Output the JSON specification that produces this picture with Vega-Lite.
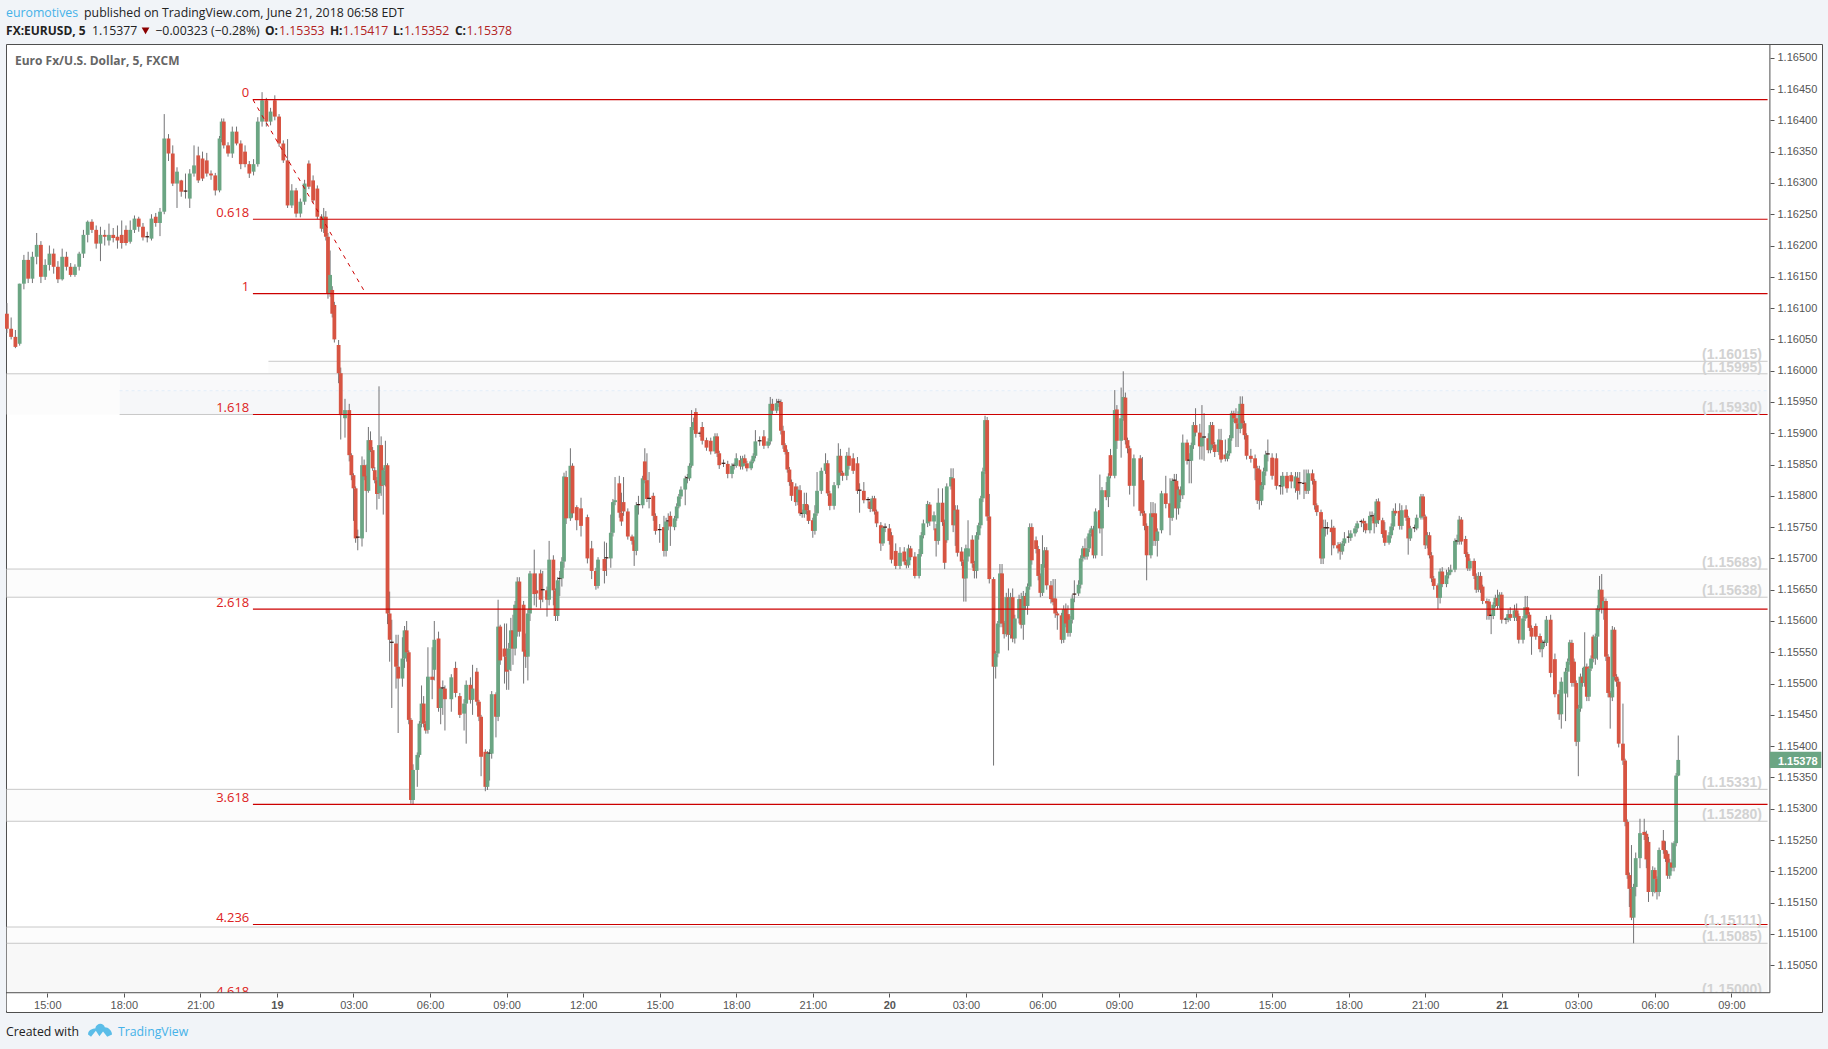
{"$schema":"https://vega.github.io/schema/vega-lite/v6.json","width":1816,"height":968,"autosize":{"type":"none"},"padding":{"left":6,"top":44,"right":6,"bottom":37},"background":"#f1f4f8","view":{"fill":"#ffffff","stroke":"#4f4f4f","strokeWidth":1},"config":{"axis":{"labelOverlap":false,"labelBound":false,"labelFlush":false}},"resolve":{"scale":{"color":"independent"}},
"datasets":{
"c":[{"i":161,"o":1.16091,"h":1.16108,"l":1.1606,"c":1.16067},{"i":163,"o":1.16067,"h":1.16085,"l":1.1605,"c":1.16054},{"i":165,"o":1.16054,"h":1.16065,"l":1.16036,"c":1.16038},{"i":167,"o":1.16043,"h":1.16139,"l":1.1604,"c":1.16139},{"i":169,"o":1.16139,"h":1.16185,"l":1.1613,"c":1.16177},{"i":171,"o":1.16177,"h":1.1619,"l":1.1614,"c":1.16147},{"i":173,"o":1.16147,"h":1.1619,"l":1.1614,"c":1.16182},{"i":175,"o":1.16182,"h":1.1622,"l":1.1617,"c":1.16201},{"i":177,"o":1.16201,"h":1.16207,"l":1.1614,"c":1.1615},{"i":179,"o":1.1615,"h":1.16178,"l":1.16145,"c":1.16169},{"i":181,"o":1.16169,"h":1.162,"l":1.1616,"c":1.16187},{"i":183,"o":1.16187,"h":1.16195,"l":1.16155,"c":1.16166},{"i":185,"o":1.16166,"h":1.16175,"l":1.1614,"c":1.16146},{"i":187,"o":1.16146,"h":1.16195,"l":1.16144,"c":1.16182},{"i":189,"o":1.16182,"h":1.1619,"l":1.1616,"c":1.16166},{"i":191,"o":1.16166,"h":1.16172,"l":1.1615,"c":1.16153},{"i":193,"o":1.16153,"h":1.1617,"l":1.1615,"c":1.16166},{"i":195,"o":1.16166,"h":1.1619,"l":1.1616,"c":1.16187},{"i":197,"o":1.16187,"h":1.16225,"l":1.1618,"c":1.16217},{"i":199,"o":1.16217,"h":1.1624,"l":1.16205,"c":1.16238},{"i":201,"o":1.16238,"h":1.16242,"l":1.1622,"c":1.16225},{"i":203,"o":1.16225,"h":1.16232,"l":1.16195,"c":1.16203},{"i":205,"o":1.16203,"h":1.1623,"l":1.16175,"c":1.16217},{"i":207,"o":1.16217,"h":1.16225,"l":1.162,"c":1.16214},{"i":209,"o":1.16208,"h":1.16235,"l":1.162,"c":1.16217},{"i":211,"o":1.16217,"h":1.16228,"l":1.16205,"c":1.16212},{"i":213,"o":1.16214,"h":1.16232,"l":1.16195,"c":1.16208},{"i":215,"o":1.16217,"h":1.1624,"l":1.16195,"c":1.16204},{"i":217,"o":1.16225,"h":1.16232,"l":1.162,"c":1.16204},{"i":219,"o":1.16206,"h":1.1624,"l":1.16203,"c":1.16225},{"i":221,"o":1.16225,"h":1.16248,"l":1.1622,"c":1.16243},{"i":223,"o":1.16243,"h":1.16246,"l":1.16222,"c":1.1623},{"i":225,"o":1.1623,"h":1.16236,"l":1.16208,"c":1.16213},{"i":227,"o":1.16213,"h":1.16222,"l":1.16205,"c":1.16215},{"i":229,"o":1.16211,"h":1.1625,"l":1.16208,"c":1.16243},{"i":231,"o":1.16246,"h":1.16252,"l":1.1623,"c":1.16236},{"i":233,"o":1.16236,"h":1.1626,"l":1.16215,"c":1.16254},{"i":235,"o":1.16254,"h":1.1641,"l":1.1625,"c":1.16371},{"i":237,"o":1.16371,"h":1.16378,"l":1.16335,"c":1.16347},{"i":239,"o":1.16347,"h":1.1636,"l":1.16295,"c":1.16299},{"i":241,"o":1.16299,"h":1.16325,"l":1.1626,"c":1.16318},{"i":243,"o":1.16304,"h":1.16305,"l":1.16278,"c":1.16286},{"i":245,"o":1.16286,"h":1.16315,"l":1.16275,"c":1.16288},{"i":247,"o":1.16275,"h":1.16322,"l":1.1626,"c":1.16315},{"i":249,"o":1.16315,"h":1.1636,"l":1.1631,"c":1.16328},{"i":251,"o":1.16344,"h":1.16358,"l":1.163,"c":1.16304},{"i":253,"o":1.16339,"h":1.1635,"l":1.16303,"c":1.16307},{"i":255,"o":1.16336,"h":1.16348,"l":1.1631,"c":1.16315},{"i":257,"o":1.16315,"h":1.1632,"l":1.16305,"c":1.16312},{"i":259,"o":1.16312,"h":1.16316,"l":1.1628,"c":1.16288},{"i":261,"o":1.16288,"h":1.16375,"l":1.16285,"c":1.16371},{"i":262,"o":1.16371,"h":1.16403,"l":1.16365,"c":1.16398},{"i":263,"o":1.16398,"h":1.16403,"l":1.16355,"c":1.1636},{"i":265,"o":1.1636,"h":1.16365,"l":1.16342,"c":1.16347},{"i":267,"o":1.16347,"h":1.1639,"l":1.1634,"c":1.16382},{"i":269,"o":1.16382,"h":1.1639,"l":1.1636,"c":1.16363},{"i":271,"o":1.16363,"h":1.16368,"l":1.16322,"c":1.1633},{"i":273,"o":1.1635,"h":1.1636,"l":1.16325,"c":1.1633},{"i":275,"o":1.1633,"h":1.16335,"l":1.16308,"c":1.16315},{"i":277,"o":1.16318,"h":1.16338,"l":1.16312,"c":1.1633},{"i":279,"o":1.1633,"h":1.16405,"l":1.16326,"c":1.16398},{"i":281,"o":1.16398,"h":1.16445,"l":1.1639,"c":1.16432},{"i":283,"o":1.16432,"h":1.16436,"l":1.1639,"c":1.16398},{"i":285,"o":1.16398,"h":1.1642,"l":1.16392,"c":1.16414},{"i":287,"o":1.16432,"h":1.1644,"l":1.164,"c":1.16406},{"i":289,"o":1.16406,"h":1.1641,"l":1.16358,"c":1.16363},{"i":291,"o":1.16363,"h":1.16368,"l":1.16332,"c":1.16336},{"i":293,"o":1.16336,"h":1.1637,"l":1.1626,"c":1.16264},{"i":295,"o":1.16264,"h":1.16298,"l":1.1626,"c":1.16288},{"i":297,"o":1.16288,"h":1.16292,"l":1.16245,"c":1.16251},{"i":299,"o":1.16251,"h":1.16275,"l":1.16245,"c":1.1627},{"i":301,"o":1.1627,"h":1.16305,"l":1.16265,"c":1.16299},{"i":303,"o":1.16331,"h":1.16336,"l":1.1629,"c":1.16294},{"i":305,"o":1.16304,"h":1.16312,"l":1.16268,"c":1.16272},{"i":307,"o":1.16291,"h":1.16296,"l":1.16242,"c":1.16246},{"i":309,"o":1.16246,"h":1.1625,"l":1.16222,"c":1.16227},{"i":310,"o":1.16227,"h":1.1626,"l":1.1622,"c":1.16246},{"i":311,"o":1.16246,"h":1.16255,"l":1.16208,"c":1.16214},{"i":312,"o":1.16214,"h":1.1622,"l":1.16115,"c":1.16123},{"i":313,"o":1.16123,"h":1.16192,"l":1.16118,"c":1.16153},{"i":314,"o":1.16129,"h":1.16135,"l":1.16085,"c":1.16091},{"i":315,"o":1.16105,"h":1.1611,"l":1.16045,"c":1.1605},{"i":317,"o":1.16041,"h":1.16049,"l":1.1598,"c":1.15996},{"i":318,"o":1.15996,"h":1.16005,"l":1.1589,"c":1.15929},{"i":320,"o":1.15924,"h":1.15955,"l":1.15893,"c":1.15937},{"i":322,"o":1.15937,"h":1.15947,"l":1.15855,"c":1.15865},{"i":323,"o":1.15865,"h":1.15868,"l":1.15825,"c":1.15833},{"i":324,"o":1.15833,"h":1.15836,"l":1.1576,"c":1.15812},{"i":325,"o":1.15812,"h":1.15815,"l":1.15725,"c":1.15732},{"i":326,"o":1.15733,"h":1.15746,"l":1.15713,"c":1.15735},{"i":328,"o":1.15732,"h":1.15863,"l":1.15719,"c":1.15849},{"i":329,"o":1.15849,"h":1.15858,"l":1.15825,"c":1.15831},{"i":330,"o":1.15832,"h":1.1585,"l":1.15742,"c":1.15808},{"i":331,"o":1.15808,"h":1.1591,"l":1.15805,"c":1.15889},{"i":332,"o":1.15889,"h":1.15903,"l":1.1587,"c":1.15873},{"i":333,"o":1.15873,"h":1.15878,"l":1.1584,"c":1.15844},{"i":334,"o":1.15841,"h":1.15846,"l":1.1582,"c":1.15825},{"i":335,"o":1.15825,"h":1.1583,"l":1.15778,"c":1.15803},{"i":336,"o":1.15804,"h":1.15975,"l":1.15795,"c":1.15881},{"i":337,"o":1.15881,"h":1.15895,"l":1.158,"c":1.15816},{"i":338,"o":1.15817,"h":1.15845,"l":1.1577,"c":1.15841},{"i":339,"o":1.15841,"h":1.15888,"l":1.15815,"c":1.15849},{"i":340,"o":1.15849,"h":1.15852,"l":1.15595,"c":1.15612},{"i":341,"o":1.15612,"h":1.15647,"l":1.15535,"c":1.1557},{"i":342,"o":1.15565,"h":1.15602,"l":1.15461,"c":1.15567},{"i":344,"o":1.15564,"h":1.15578,"l":1.15492,"c":1.15527},{"i":345,"o":1.15527,"h":1.15578,"l":1.15421,"c":1.15508},{"i":347,"o":1.15508,"h":1.15574,"l":1.15495,"c":1.1554},{"i":348,"o":1.1554,"h":1.15592,"l":1.15525,"c":1.15585},{"i":349,"o":1.15585,"h":1.156,"l":1.15535,"c":1.1555},{"i":350,"o":1.1555,"h":1.15553,"l":1.15435,"c":1.15442},{"i":351,"o":1.15442,"h":1.15445,"l":1.15308,"c":1.15314},{"i":352,"o":1.15314,"h":1.15371,"l":1.15306,"c":1.15362},{"i":354,"o":1.15362,"h":1.1539,"l":1.15335,"c":1.15386},{"i":355,"o":1.15386,"h":1.1544,"l":1.15382,"c":1.15436},{"i":356,"o":1.15436,"h":1.15497,"l":1.1543,"c":1.15468},{"i":357,"o":1.15468,"h":1.1548,"l":1.1543,"c":1.15436},{"i":358,"o":1.15436,"h":1.1544,"l":1.1542,"c":1.15425},{"i":359,"o":1.15426,"h":1.15558,"l":1.1542,"c":1.15511},{"i":361,"o":1.15511,"h":1.15558,"l":1.15475,"c":1.15506},{"i":362,"o":1.15522,"h":1.156,"l":1.15505,"c":1.1557},{"i":364,"o":1.15572,"h":1.15583,"l":1.15455,"c":1.15461},{"i":365,"o":1.15461,"h":1.15495,"l":1.15435,"c":1.15492},{"i":366,"o":1.15492,"h":1.15505,"l":1.1545,"c":1.15494},{"i":367,"o":1.15492,"h":1.15497,"l":1.15425,"c":1.15475},{"i":370,"o":1.15475,"h":1.15515,"l":1.15455,"c":1.1551},{"i":372,"o":1.15525,"h":1.15535,"l":1.15478,"c":1.15485},{"i":374,"o":1.1548,"h":1.15485,"l":1.15445,"c":1.1545},{"i":376,"o":1.15452,"h":1.15475,"l":1.15425,"c":1.15468},{"i":377,"o":1.15468,"h":1.15505,"l":1.15404,"c":1.15498},{"i":379,"o":1.15498,"h":1.1551,"l":1.15468,"c":1.15474},{"i":380,"o":1.15474,"h":1.1553,"l":1.1545,"c":1.15492},{"i":382,"o":1.15519,"h":1.15525,"l":1.15465,"c":1.15471},{"i":383,"o":1.15471,"h":1.15474,"l":1.1544,"c":1.15447},{"i":384,"o":1.15447,"h":1.1545,"l":1.15352,"c":1.15383},{"i":386,"o":1.15391,"h":1.15395,"l":1.15328,"c":1.15335},{"i":387,"o":1.15335,"h":1.15392,"l":1.1533,"c":1.15388},{"i":388,"o":1.15388,"h":1.15395,"l":1.15345,"c":1.1539},{"i":389,"o":1.15388,"h":1.15488,"l":1.1538,"c":1.15483},{"i":391,"o":1.15483,"h":1.15486,"l":1.15414,"c":1.15447},{"i":392,"o":1.15447,"h":1.15634,"l":1.1544,"c":1.15591},{"i":393,"o":1.15591,"h":1.15594,"l":1.1553,"c":1.15537},{"i":395,"o":1.15556,"h":1.15596,"l":1.155,"c":1.15543},{"i":396,"o":1.15543,"h":1.15596,"l":1.1549,"c":1.15519},{"i":397,"o":1.15522,"h":1.15565,"l":1.1549,"c":1.15556},{"i":398,"o":1.15556,"h":1.15605,"l":1.1552,"c":1.15585},{"i":399,"o":1.15585,"h":1.1561,"l":1.1553,"c":1.15556},{"i":400,"o":1.15556,"h":1.15632,"l":1.15545,"c":1.15626},{"i":401,"o":1.15583,"h":1.1567,"l":1.15575,"c":1.15663},{"i":402,"o":1.15663,"h":1.1567,"l":1.15575,"c":1.15583},{"i":404,"o":1.15626,"h":1.15632,"l":1.155,"c":1.15551},{"i":405,"o":1.15554,"h":1.1558,"l":1.15525,"c":1.15543},{"i":406,"o":1.15543,"h":1.15618,"l":1.15505,"c":1.15612},{"i":407,"o":1.15612,"h":1.1568,"l":1.156,"c":1.15676},{"i":409,"o":1.15676,"h":1.15714,"l":1.15625,"c":1.15643},{"i":410,"o":1.15649,"h":1.15676,"l":1.15622,"c":1.15644},{"i":412,"o":1.15676,"h":1.15682,"l":1.1562,"c":1.15634},{"i":413,"o":1.15649,"h":1.1568,"l":1.1563,"c":1.15651},{"i":415,"o":1.15649,"h":1.15655,"l":1.15607,"c":1.15634},{"i":416,"o":1.15634,"h":1.15728,"l":1.15625,"c":1.15698},{"i":418,"o":1.15698,"h":1.15705,"l":1.15625,"c":1.15649},{"i":419,"o":1.15649,"h":1.15652,"l":1.156,"c":1.15608},{"i":420,"o":1.15608,"h":1.1567,"l":1.156,"c":1.15665},{"i":421,"o":1.15667,"h":1.1568,"l":1.1564,"c":1.15669},{"i":422,"o":1.15668,"h":1.15702,"l":1.15655,"c":1.15695},{"i":423,"o":1.15695,"h":1.15837,"l":1.15685,"c":1.15831},{"i":424,"o":1.1583,"h":1.1584,"l":1.15755,"c":1.15764},{"i":426,"o":1.15764,"h":1.15876,"l":1.1576,"c":1.15848},{"i":427,"o":1.15848,"h":1.15852,"l":1.15765,"c":1.15772},{"i":429,"o":1.15782,"h":1.15785,"l":1.15745,"c":1.15761},{"i":431,"o":1.1578,"h":1.15797,"l":1.15735,"c":1.15752},{"i":434,"o":1.15766,"h":1.1577,"l":1.15692,"c":1.157},{"i":436,"o":1.15716,"h":1.15728,"l":1.15667,"c":1.1568},{"i":438,"o":1.1568,"h":1.15685,"l":1.1565,"c":1.15656},{"i":439,"o":1.15656,"h":1.15702,"l":1.15652,"c":1.15698},{"i":442,"o":1.15699,"h":1.15727,"l":1.1566,"c":1.1568},{"i":443,"o":1.157,"h":1.15725,"l":1.15672,"c":1.15702},{"i":445,"o":1.157,"h":1.1577,"l":1.15685,"c":1.15741},{"i":446,"o":1.15741,"h":1.15795,"l":1.15735,"c":1.1579},{"i":447,"o":1.1579,"h":1.1583,"l":1.15785,"c":1.15793},{"i":449,"o":1.1582,"h":1.15832,"l":1.15765,"c":1.15773},{"i":450,"o":1.15773,"h":1.15805,"l":1.15752,"c":1.15759},{"i":451,"o":1.1579,"h":1.1583,"l":1.15768,"c":1.15775},{"i":453,"o":1.15775,"h":1.1578,"l":1.1573,"c":1.15735},{"i":455,"o":1.15735,"h":1.15738,"l":1.15722,"c":1.15728},{"i":456,"o":1.15729,"h":1.15735,"l":1.15688,"c":1.15712},{"i":457,"o":1.15712,"h":1.1579,"l":1.15705,"c":1.15785},{"i":458,"o":1.15785,"h":1.158,"l":1.1577,"c":1.15787},{"i":460,"o":1.15785,"h":1.15832,"l":1.1578,"c":1.15828},{"i":461,"o":1.15855,"h":1.15876,"l":1.1582,"c":1.15825},{"i":462,"o":1.15825,"h":1.15868,"l":1.1579,"c":1.15795},{"i":463,"o":1.15795,"h":1.15838,"l":1.1578,"c":1.15797},{"i":465,"o":1.158,"h":1.15805,"l":1.1576,"c":1.15768},{"i":466,"o":1.15768,"h":1.15772,"l":1.15738,"c":1.15744},{"i":468,"o":1.15745,"h":1.15755,"l":1.15725,"c":1.15747},{"i":470,"o":1.1575,"h":1.15768,"l":1.15703,"c":1.15712},{"i":471,"o":1.15712,"h":1.15765,"l":1.15703,"c":1.15759},{"i":472,"o":1.15759,"h":1.15772,"l":1.15745,"c":1.15761},{"i":473,"o":1.15768,"h":1.15775,"l":1.1572,"c":1.15751},{"i":475,"o":1.1575,"h":1.15768,"l":1.15745,"c":1.15764},{"i":476,"o":1.15764,"h":1.15788,"l":1.1576,"c":1.15783},{"i":477,"o":1.15783,"h":1.15803,"l":1.1578,"c":1.15799},{"i":478,"o":1.15799,"h":1.15815,"l":1.15795,"c":1.1581},{"i":480,"o":1.1581,"h":1.15832,"l":1.15785,"c":1.15828},{"i":481,"o":1.15828,"h":1.15835,"l":1.1582,"c":1.1583},{"i":482,"o":1.15828,"h":1.15852,"l":1.15824,"c":1.15848},{"i":483,"o":1.15848,"h":1.15937,"l":1.15845,"c":1.1591},{"i":484,"o":1.1591,"h":1.15925,"l":1.15905,"c":1.15918},{"i":485,"o":1.15934,"h":1.1594,"l":1.15893,"c":1.15899},{"i":487,"o":1.15899,"h":1.15903,"l":1.15894,"c":1.15901},{"i":488,"o":1.1591,"h":1.15918,"l":1.15882,"c":1.15888},{"i":490,"o":1.15889,"h":1.15893,"l":1.15872,"c":1.15877},{"i":492,"o":1.15888,"h":1.15893,"l":1.15866,"c":1.15871},{"i":494,"o":1.15871,"h":1.159,"l":1.15867,"c":1.15895},{"i":495,"o":1.15895,"h":1.159,"l":1.15862,"c":1.15868},{"i":496,"o":1.15868,"h":1.15872,"l":1.15843,"c":1.15849},{"i":498,"o":1.15851,"h":1.15858,"l":1.15846,"c":1.15853},{"i":500,"o":1.15851,"h":1.15856,"l":1.15828,"c":1.15835},{"i":502,"o":1.15835,"h":1.15852,"l":1.15828,"c":1.15848},{"i":503,"o":1.15848,"h":1.15853,"l":1.15842,"c":1.1585},{"i":504,"o":1.15848,"h":1.15868,"l":1.15845,"c":1.1586},{"i":506,"o":1.15857,"h":1.15864,"l":1.15842,"c":1.15847},{"i":507,"o":1.15847,"h":1.15864,"l":1.15842,"c":1.1586},{"i":508,"o":1.1586,"h":1.15866,"l":1.15848,"c":1.15852},{"i":509,"o":1.15852,"h":1.15856,"l":1.15839,"c":1.15844},{"i":511,"o":1.15844,"h":1.15858,"l":1.15841,"c":1.15855},{"i":512,"o":1.15855,"h":1.15868,"l":1.15852,"c":1.15864},{"i":513,"o":1.15864,"h":1.15905,"l":1.1586,"c":1.15887},{"i":515,"o":1.15887,"h":1.15895,"l":1.1588,"c":1.15889},{"i":517,"o":1.15895,"h":1.15905,"l":1.15875,"c":1.1588},{"i":519,"o":1.1588,"h":1.15892,"l":1.15876,"c":1.15887},{"i":520,"o":1.15887,"h":1.15958,"l":1.15882,"c":1.15947},{"i":521,"o":1.15947,"h":1.15955,"l":1.1593,"c":1.15936},{"i":523,"o":1.15936,"h":1.15955,"l":1.15932,"c":1.15948},{"i":524,"o":1.15949,"h":1.15955,"l":1.15942,"c":1.15951},{"i":525,"o":1.1595,"h":1.15954,"l":1.15898,"c":1.15904},{"i":526,"o":1.15904,"h":1.15912,"l":1.15875,"c":1.15881},{"i":527,"o":1.15881,"h":1.15884,"l":1.15866,"c":1.1587},{"i":528,"o":1.1587,"h":1.15874,"l":1.15837,"c":1.15842},{"i":529,"o":1.15842,"h":1.15846,"l":1.15816,"c":1.15822},{"i":530,"o":1.15822,"h":1.15826,"l":1.15792,"c":1.158},{"i":532,"o":1.15815,"h":1.1582,"l":1.15784,"c":1.1579},{"i":533,"o":1.1579,"h":1.15815,"l":1.15785,"c":1.1581},{"i":534,"o":1.15809,"h":1.15817,"l":1.15768,"c":1.15772},{"i":535,"o":1.15771,"h":1.15778,"l":1.15765,"c":1.15773},{"i":536,"o":1.15771,"h":1.15805,"l":1.15765,"c":1.15787},{"i":537,"o":1.15787,"h":1.15805,"l":1.1577,"c":1.15777},{"i":538,"o":1.15777,"h":1.15785,"l":1.15755,"c":1.1576},{"i":540,"o":1.15761,"h":1.15765,"l":1.15733,"c":1.15744},{"i":541,"o":1.15744,"h":1.15785,"l":1.15738,"c":1.15772},{"i":542,"o":1.15772,"h":1.15838,"l":1.15768,"c":1.15808},{"i":544,"o":1.15808,"h":1.15845,"l":1.15803,"c":1.1584},{"i":546,"o":1.1584,"h":1.15868,"l":1.15835,"c":1.15852},{"i":547,"o":1.15852,"h":1.15857,"l":1.158,"c":1.15804},{"i":548,"o":1.15804,"h":1.15808,"l":1.15777,"c":1.15784},{"i":550,"o":1.15784,"h":1.15822,"l":1.15778,"c":1.15817},{"i":552,"o":1.15817,"h":1.15884,"l":1.15812,"c":1.15864},{"i":553,"o":1.15864,"h":1.15875,"l":1.15832,"c":1.15837},{"i":554,"o":1.15837,"h":1.1584,"l":1.15824,"c":1.15832},{"i":556,"o":1.15832,"h":1.1587,"l":1.15825,"c":1.15864},{"i":557,"o":1.15864,"h":1.15877,"l":1.15842,"c":1.15848},{"i":559,"o":1.1586,"h":1.15868,"l":1.15835,"c":1.1584},{"i":561,"o":1.15852,"h":1.15862,"l":1.15803,"c":1.15808},{"i":562,"o":1.15808,"h":1.1582,"l":1.15773,"c":1.1581},{"i":564,"o":1.15808,"h":1.15822,"l":1.15788,"c":1.15793},{"i":566,"o":1.15793,"h":1.15798,"l":1.1578,"c":1.15795},{"i":567,"o":1.15791,"h":1.15795,"l":1.15774,"c":1.15779},{"i":568,"o":1.15779,"h":1.158,"l":1.15775,"c":1.15796},{"i":569,"o":1.15796,"h":1.158,"l":1.1577,"c":1.15775},{"i":570,"o":1.15775,"h":1.15778,"l":1.1575,"c":1.15756},{"i":572,"o":1.15753,"h":1.15758,"l":1.15712,"c":1.15724},{"i":573,"o":1.15724,"h":1.15752,"l":1.1572,"c":1.15749},{"i":574,"o":1.15749,"h":1.15756,"l":1.15742,"c":1.15751},{"i":576,"o":1.15748,"h":1.15755,"l":1.15722,"c":1.15728},{"i":577,"o":1.15737,"h":1.15742,"l":1.15692,"c":1.15698},{"i":579,"o":1.15712,"h":1.15724,"l":1.15683,"c":1.15688},{"i":581,"o":1.15688,"h":1.15718,"l":1.15683,"c":1.15709},{"i":583,"o":1.15711,"h":1.15718,"l":1.1569,"c":1.15695},{"i":584,"o":1.15695,"h":1.15698,"l":1.15684,"c":1.15689},{"i":585,"o":1.15689,"h":1.15722,"l":1.15685,"c":1.15716},{"i":586,"o":1.15716,"h":1.1572,"l":1.15697,"c":1.15702},{"i":588,"o":1.15703,"h":1.1571,"l":1.15668,"c":1.15672},{"i":590,"o":1.15672,"h":1.15715,"l":1.15668,"c":1.15707},{"i":591,"o":1.15707,"h":1.15742,"l":1.15703,"c":1.15737},{"i":592,"o":1.15737,"h":1.15762,"l":1.15732,"c":1.15756},{"i":594,"o":1.15756,"h":1.15792,"l":1.1575,"c":1.15787},{"i":595,"o":1.15786,"h":1.1579,"l":1.15752,"c":1.15759},{"i":597,"o":1.15759,"h":1.15775,"l":1.15745,"c":1.15769},{"i":598,"o":1.15748,"h":1.15755,"l":1.15703,"c":1.15728},{"i":599,"o":1.15728,"h":1.15812,"l":1.15722,"c":1.15789},{"i":601,"o":1.15789,"h":1.15812,"l":1.15752,"c":1.15758},{"i":602,"o":1.15758,"h":1.15762,"l":1.15683,"c":1.15693},{"i":603,"o":1.15729,"h":1.1582,"l":1.15725,"c":1.15815},{"i":605,"o":1.15815,"h":1.15844,"l":1.1581,"c":1.1583},{"i":606,"o":1.15828,"h":1.15844,"l":1.15742,"c":1.15753},{"i":607,"o":1.15753,"h":1.15785,"l":1.1572,"c":1.15777},{"i":608,"o":1.15778,"h":1.15785,"l":1.15703,"c":1.15709},{"i":610,"o":1.15711,"h":1.15718,"l":1.15688,"c":1.15695},{"i":611,"o":1.15695,"h":1.15698,"l":1.15631,"c":1.15668},{"i":612,"o":1.15668,"h":1.15722,"l":1.15631,"c":1.15716},{"i":613,"o":1.15703,"h":1.15761,"l":1.15695,"c":1.15716},{"i":615,"o":1.1573,"h":1.15737,"l":1.15685,"c":1.15692},{"i":616,"o":1.15692,"h":1.15696,"l":1.15668,"c":1.1568},{"i":617,"o":1.1568,"h":1.15742,"l":1.15668,"c":1.15737},{"i":618,"o":1.15737,"h":1.15757,"l":1.1573,"c":1.15753},{"i":619,"o":1.15753,"h":1.158,"l":1.15748,"c":1.15796},{"i":620,"o":1.15796,"h":1.15845,"l":1.1579,"c":1.15839},{"i":621,"o":1.15839,"h":1.15928,"l":1.15835,"c":1.15921},{"i":622,"o":1.15921,"h":1.15926,"l":1.1576,"c":1.15767},{"i":623,"o":1.15767,"h":1.15803,"l":1.1566,"c":1.15667},{"i":625,"o":1.15667,"h":1.1567,"l":1.15369,"c":1.15527},{"i":626,"o":1.15527,"h":1.15552,"l":1.15508,"c":1.15548},{"i":627,"o":1.15548,"h":1.156,"l":1.15542,"c":1.15596},{"i":628,"o":1.15596,"h":1.15691,"l":1.1559,"c":1.15676},{"i":629,"o":1.15676,"h":1.15691,"l":1.1559,"c":1.15596},{"i":630,"o":1.15597,"h":1.156,"l":1.15572,"c":1.15579},{"i":631,"o":1.15579,"h":1.15645,"l":1.15575,"c":1.15638},{"i":632,"o":1.15638,"h":1.15652,"l":1.15553,"c":1.15578},{"i":633,"o":1.15578,"h":1.15645,"l":1.15572,"c":1.15638},{"i":634,"o":1.15638,"h":1.15652,"l":1.15566,"c":1.15572},{"i":635,"o":1.15572,"h":1.1561,"l":1.15564,"c":1.15604},{"i":637,"o":1.15604,"h":1.15642,"l":1.15596,"c":1.15635},{"i":638,"o":1.15635,"h":1.15645,"l":1.15588,"c":1.15594},{"i":639,"o":1.15594,"h":1.15648,"l":1.1557,"c":1.1564},{"i":640,"o":1.1564,"h":1.15645,"l":1.15618,"c":1.15624},{"i":641,"o":1.15624,"h":1.1566,"l":1.1561,"c":1.15655},{"i":642,"o":1.15655,"h":1.15756,"l":1.1565,"c":1.1575},{"i":643,"o":1.1575,"h":1.15756,"l":1.1569,"c":1.15697},{"i":645,"o":1.15729,"h":1.15735,"l":1.15708,"c":1.15715},{"i":646,"o":1.15715,"h":1.1572,"l":1.15665,"c":1.15672},{"i":647,"o":1.15672,"h":1.15676,"l":1.15638,"c":1.15645},{"i":648,"o":1.15645,"h":1.15737,"l":1.1564,"c":1.15691},{"i":649,"o":1.15691,"h":1.15718,"l":1.15685,"c":1.15713},{"i":650,"o":1.15713,"h":1.15718,"l":1.1565,"c":1.15657},{"i":652,"o":1.15657,"h":1.15664,"l":1.15628,"c":1.15635},{"i":653,"o":1.15636,"h":1.15667,"l":1.15625,"c":1.1563},{"i":654,"o":1.15636,"h":1.15667,"l":1.15605,"c":1.15612},{"i":655,"o":1.15612,"h":1.15615,"l":1.15586,"c":1.15609},{"i":657,"o":1.15609,"h":1.15613,"l":1.15564,"c":1.1557},{"i":658,"o":1.1557,"h":1.15625,"l":1.15565,"c":1.15619},{"i":659,"o":1.15619,"h":1.15628,"l":1.1559,"c":1.15596},{"i":660,"o":1.15611,"h":1.15625,"l":1.15575,"c":1.15581},{"i":661,"o":1.15581,"h":1.15608,"l":1.15575,"c":1.15602},{"i":662,"o":1.15602,"h":1.15642,"l":1.15596,"c":1.15636},{"i":663,"o":1.15642,"h":1.15665,"l":1.1563,"c":1.15644},{"i":665,"o":1.15644,"h":1.15665,"l":1.1564,"c":1.15658},{"i":666,"o":1.15658,"h":1.15705,"l":1.15652,"c":1.157},{"i":667,"o":1.157,"h":1.1572,"l":1.15695,"c":1.15716},{"i":668,"o":1.15716,"h":1.15732,"l":1.15698,"c":1.15703},{"i":669,"o":1.15703,"h":1.15735,"l":1.15698,"c":1.15716},{"i":670,"o":1.15716,"h":1.15745,"l":1.1571,"c":1.1574},{"i":671,"o":1.1574,"h":1.15752,"l":1.15735,"c":1.15748},{"i":672,"o":1.15746,"h":1.15752,"l":1.157,"c":1.15705},{"i":673,"o":1.15705,"h":1.1578,"l":1.157,"c":1.15775},{"i":675,"o":1.15777,"h":1.15834,"l":1.1574,"c":1.15748},{"i":676,"o":1.15748,"h":1.15814,"l":1.15704,"c":1.15809},{"i":678,"o":1.15809,"h":1.15822,"l":1.15793,"c":1.15798},{"i":679,"o":1.15798,"h":1.15836,"l":1.15782,"c":1.15831},{"i":680,"o":1.15865,"h":1.15875,"l":1.15828,"c":1.15832},{"i":682,"o":1.15832,"h":1.15969,"l":1.15828,"c":1.15937},{"i":683,"o":1.15938,"h":1.15945,"l":1.15875,"c":1.15888},{"i":685,"o":1.15888,"h":1.15973,"l":1.15861,"c":1.15924},{"i":686,"o":1.15924,"h":1.15999,"l":1.1592,"c":1.15958},{"i":687,"o":1.15957,"h":1.15965,"l":1.15882,"c":1.15889},{"i":688,"o":1.15889,"h":1.15893,"l":1.15868,"c":1.15876},{"i":689,"o":1.15876,"h":1.1588,"l":1.15802,"c":1.15816},{"i":691,"o":1.15816,"h":1.15866,"l":1.15783,"c":1.1586},{"i":694,"o":1.1586,"h":1.15865,"l":1.15768,"c":1.15776},{"i":695,"o":1.15825,"h":1.15862,"l":1.15768,"c":1.15772},{"i":696,"o":1.15772,"h":1.15776,"l":1.15745,"c":1.15752},{"i":697,"o":1.15752,"h":1.15756,"l":1.15665,"c":1.15705},{"i":699,"o":1.15705,"h":1.1579,"l":1.157,"c":1.15772},{"i":700,"o":1.15772,"h":1.1579,"l":1.1572,"c":1.15766},{"i":701,"o":1.15772,"h":1.15788,"l":1.1572,"c":1.15728},{"i":702,"o":1.15728,"h":1.15748,"l":1.15703,"c":1.15743},{"i":704,"o":1.15745,"h":1.15808,"l":1.1574,"c":1.15804},{"i":706,"o":1.15804,"h":1.15832,"l":1.1578,"c":1.15787},{"i":708,"o":1.15788,"h":1.15828,"l":1.15737,"c":1.15765},{"i":709,"o":1.15765,"h":1.15828,"l":1.1576,"c":1.15824},{"i":710,"o":1.15824,"h":1.15835,"l":1.1578,"c":1.15826},{"i":711,"o":1.15824,"h":1.15835,"l":1.15762,"c":1.1578},{"i":712,"o":1.1578,"h":1.15815,"l":1.1577,"c":1.1581},{"i":713,"o":1.1581,"h":1.15815,"l":1.1579,"c":1.15801},{"i":714,"o":1.15801,"h":1.15898,"l":1.15795,"c":1.15885},{"i":716,"o":1.15885,"h":1.1589,"l":1.1585,"c":1.15856},{"i":717,"o":1.15856,"h":1.15868,"l":1.1582,"c":1.15858},{"i":718,"o":1.15856,"h":1.15885,"l":1.1582,"c":1.15881},{"i":719,"o":1.15881,"h":1.15918,"l":1.15875,"c":1.15913},{"i":720,"o":1.15913,"h":1.1594,"l":1.15895,"c":1.15901},{"i":722,"o":1.15901,"h":1.15915,"l":1.15858,"c":1.15879},{"i":723,"o":1.15879,"h":1.15945,"l":1.15858,"c":1.15893},{"i":724,"o":1.15893,"h":1.15932,"l":1.15856,"c":1.15895},{"i":726,"o":1.15892,"h":1.159,"l":1.15868,"c":1.15873},{"i":727,"o":1.15873,"h":1.15918,"l":1.15868,"c":1.15913},{"i":728,"o":1.15913,"h":1.15918,"l":1.15876,"c":1.15882},{"i":729,"o":1.15882,"h":1.15886,"l":1.15862,"c":1.1587},{"i":731,"o":1.1587,"h":1.15907,"l":1.15865,"c":1.1589},{"i":732,"o":1.15889,"h":1.15907,"l":1.15853,"c":1.15858},{"i":734,"o":1.15866,"h":1.1589,"l":1.15855,"c":1.15859},{"i":735,"o":1.15859,"h":1.15872,"l":1.15855,"c":1.15868},{"i":736,"o":1.15868,"h":1.15897,"l":1.15864,"c":1.15892},{"i":737,"o":1.15892,"h":1.15936,"l":1.15888,"c":1.15932},{"i":738,"o":1.15932,"h":1.15936,"l":1.15918,"c":1.15924},{"i":739,"o":1.15924,"h":1.1594,"l":1.15878,"c":1.15916},{"i":740,"o":1.15916,"h":1.15935,"l":1.15878,"c":1.15907},{"i":741,"o":1.15907,"h":1.15959,"l":1.159,"c":1.15947},{"i":742,"o":1.15947,"h":1.15959,"l":1.15908,"c":1.15916},{"i":743,"o":1.15916,"h":1.1592,"l":1.1589,"c":1.15897},{"i":744,"o":1.15897,"h":1.159,"l":1.15858,"c":1.15864},{"i":746,"o":1.15864,"h":1.15875,"l":1.15853,"c":1.15859},{"i":748,"o":1.1586,"h":1.15866,"l":1.15825,"c":1.15844},{"i":749,"o":1.15844,"h":1.15848,"l":1.15787,"c":1.15793},{"i":750,"o":1.15842,"h":1.15848,"l":1.15778,"c":1.15792},{"i":751,"o":1.15792,"h":1.15822,"l":1.15785,"c":1.15817},{"i":752,"o":1.15817,"h":1.15845,"l":1.1581,"c":1.15839},{"i":753,"o":1.15839,"h":1.15872,"l":1.15832,"c":1.15866},{"i":754,"o":1.15866,"h":1.1589,"l":1.15855,"c":1.15868},{"i":756,"o":1.15861,"h":1.15868,"l":1.15826,"c":1.15832},{"i":758,"o":1.1586,"h":1.15868,"l":1.1581,"c":1.15816},{"i":760,"o":1.15815,"h":1.15832,"l":1.15802,"c":1.15817},{"i":761,"o":1.15815,"h":1.15838,"l":1.15802,"c":1.15832},{"i":763,"o":1.15832,"h":1.15838,"l":1.15805,"c":1.15812},{"i":765,"o":1.15833,"h":1.15838,"l":1.15812,"c":1.15823},{"i":767,"o":1.15812,"h":1.15838,"l":1.15805,"c":1.15831},{"i":768,"o":1.15829,"h":1.15838,"l":1.15794,"c":1.15808},{"i":769,"o":1.1582,"h":1.15838,"l":1.15802,"c":1.15822},{"i":771,"o":1.15819,"h":1.15842,"l":1.15795,"c":1.15821},{"i":772,"o":1.15821,"h":1.15842,"l":1.15803,"c":1.15808},{"i":773,"o":1.15808,"h":1.15842,"l":1.15803,"c":1.15836},{"i":775,"o":1.15836,"h":1.15842,"l":1.15818,"c":1.15824},{"i":776,"o":1.15824,"h":1.15827,"l":1.15778,"c":1.15785},{"i":777,"o":1.15785,"h":1.15788,"l":1.15768,"c":1.15774},{"i":779,"o":1.15774,"h":1.15778,"l":1.15691,"c":1.157},{"i":780,"o":1.157,"h":1.15762,"l":1.15691,"c":1.15748},{"i":781,"o":1.15748,"h":1.15762,"l":1.15735,"c":1.1575},{"i":782,"o":1.15748,"h":1.15758,"l":1.15738,"c":1.1575},{"i":784,"o":1.15749,"h":1.15762,"l":1.15705,"c":1.15742},{"i":785,"o":1.15749,"h":1.15752,"l":1.15716,"c":1.15721},{"i":787,"o":1.15721,"h":1.15726,"l":1.15708,"c":1.15716},{"i":788,"o":1.15723,"h":1.15726,"l":1.15698,"c":1.15711},{"i":789,"o":1.15711,"h":1.15728,"l":1.15706,"c":1.15724},{"i":790,"o":1.15724,"h":1.15742,"l":1.1572,"c":1.15732},{"i":792,"o":1.15733,"h":1.15745,"l":1.15725,"c":1.15735},{"i":793,"o":1.15733,"h":1.15745,"l":1.15728,"c":1.1574},{"i":795,"o":1.1574,"h":1.15752,"l":1.15735,"c":1.15748},{"i":796,"o":1.15748,"h":1.1576,"l":1.15742,"c":1.15756},{"i":798,"o":1.15758,"h":1.15762,"l":1.1575,"c":1.1576},{"i":799,"o":1.1576,"h":1.15764,"l":1.15742,"c":1.15756},{"i":800,"o":1.15756,"h":1.1576,"l":1.1574,"c":1.15745},{"i":802,"o":1.15745,"h":1.15775,"l":1.1574,"c":1.15768},{"i":803,"o":1.15767,"h":1.15775,"l":1.1576,"c":1.15769},{"i":804,"o":1.15767,"h":1.15772,"l":1.1574,"c":1.15756},{"i":805,"o":1.15756,"h":1.15795,"l":1.1575,"c":1.15791},{"i":806,"o":1.15791,"h":1.15796,"l":1.15755,"c":1.15761},{"i":808,"o":1.15761,"h":1.15765,"l":1.15733,"c":1.15739},{"i":809,"o":1.15745,"h":1.15758,"l":1.1572,"c":1.15725},{"i":811,"o":1.15725,"h":1.15742,"l":1.15722,"c":1.15737},{"i":812,"o":1.15737,"h":1.15756,"l":1.15732,"c":1.15751},{"i":813,"o":1.15751,"h":1.1578,"l":1.15745,"c":1.15776},{"i":814,"o":1.15776,"h":1.15788,"l":1.15768,"c":1.15772},{"i":816,"o":1.15776,"h":1.15788,"l":1.15746,"c":1.15752},{"i":817,"o":1.15752,"h":1.15785,"l":1.15746,"c":1.15777},{"i":819,"o":1.15778,"h":1.15785,"l":1.1576,"c":1.15765},{"i":820,"o":1.15765,"h":1.15768,"l":1.15706,"c":1.15732},{"i":821,"o":1.15732,"h":1.15752,"l":1.15728,"c":1.15748},{"i":823,"o":1.15748,"h":1.15754,"l":1.15742,"c":1.1575},{"i":824,"o":1.15748,"h":1.1577,"l":1.15745,"c":1.15765},{"i":826,"o":1.15765,"h":1.15803,"l":1.15762,"c":1.15799},{"i":827,"o":1.15799,"h":1.15803,"l":1.15762,"c":1.15767},{"i":828,"o":1.15767,"h":1.1577,"l":1.15715,"c":1.15721},{"i":829,"o":1.15721,"h":1.15742,"l":1.15716,"c":1.15737},{"i":830,"o":1.15737,"h":1.15742,"l":1.157,"c":1.15705},{"i":831,"o":1.15705,"h":1.1571,"l":1.15662,"c":1.15668},{"i":832,"o":1.15668,"h":1.15672,"l":1.1565,"c":1.15656},{"i":834,"o":1.15657,"h":1.1566,"l":1.15619,"c":1.15637},{"i":835,"o":1.15637,"h":1.15684,"l":1.15628,"c":1.15679},{"i":836,"o":1.15679,"h":1.15686,"l":1.15654,"c":1.15659},{"i":838,"o":1.15659,"h":1.15682,"l":1.15654,"c":1.15673},{"i":839,"o":1.15673,"h":1.15686,"l":1.15668,"c":1.15678},{"i":840,"o":1.15678,"h":1.1569,"l":1.15674,"c":1.15682},{"i":842,"o":1.15682,"h":1.15732,"l":1.15678,"c":1.15728},{"i":843,"o":1.15727,"h":1.15738,"l":1.15722,"c":1.15729},{"i":844,"o":1.15727,"h":1.15768,"l":1.15722,"c":1.15762},{"i":845,"o":1.15762,"h":1.15766,"l":1.15722,"c":1.15727},{"i":847,"o":1.15731,"h":1.15736,"l":1.15702,"c":1.15707},{"i":848,"o":1.15707,"h":1.1571,"l":1.1568,"c":1.15684},{"i":849,"o":1.15684,"h":1.157,"l":1.1568,"c":1.15696},{"i":851,"o":1.15696,"h":1.157,"l":1.15667,"c":1.15672},{"i":852,"o":1.15672,"h":1.15676,"l":1.15645,"c":1.1565},{"i":853,"o":1.1565,"h":1.15678,"l":1.15646,"c":1.15672},{"i":854,"o":1.15672,"h":1.15678,"l":1.15645,"c":1.1565},{"i":855,"o":1.15655,"h":1.15658,"l":1.15627,"c":1.15632},{"i":857,"o":1.15632,"h":1.15636,"l":1.15602,"c":1.15628},{"i":858,"o":1.15631,"h":1.15635,"l":1.15602,"c":1.15608},{"i":859,"o":1.15608,"h":1.15612,"l":1.15579,"c":1.1561},{"i":860,"o":1.15608,"h":1.1563,"l":1.15603,"c":1.15626},{"i":861,"o":1.15626,"h":1.15642,"l":1.15622,"c":1.15637},{"i":862,"o":1.15637,"h":1.1565,"l":1.15618,"c":1.15624},{"i":863,"o":1.15624,"h":1.15646,"l":1.1562,"c":1.15642},{"i":864,"o":1.15642,"h":1.15646,"l":1.15596,"c":1.15602},{"i":866,"o":1.15602,"h":1.15606,"l":1.15595,"c":1.15604},{"i":867,"o":1.15602,"h":1.15618,"l":1.15598,"c":1.15611},{"i":868,"o":1.15611,"h":1.15622,"l":1.156,"c":1.15605},{"i":870,"o":1.15605,"h":1.15626,"l":1.156,"c":1.15617},{"i":871,"o":1.15617,"h":1.15628,"l":1.156,"c":1.15607},{"i":872,"o":1.15608,"h":1.15612,"l":1.15564,"c":1.1557},{"i":874,"o":1.1557,"h":1.15608,"l":1.15564,"c":1.15604},{"i":875,"o":1.15604,"h":1.1564,"l":1.156,"c":1.15622},{"i":876,"o":1.15622,"h":1.1564,"l":1.15605,"c":1.1561},{"i":877,"o":1.1561,"h":1.15614,"l":1.15584,"c":1.15589},{"i":878,"o":1.15589,"h":1.15593,"l":1.15546,"c":1.15575},{"i":880,"o":1.15592,"h":1.15596,"l":1.1557,"c":1.15575},{"i":882,"o":1.15576,"h":1.1558,"l":1.1555,"c":1.15555},{"i":883,"o":1.15555,"h":1.1557,"l":1.15542,"c":1.15565},{"i":884,"o":1.15565,"h":1.1557,"l":1.15558,"c":1.15567},{"i":885,"o":1.15565,"h":1.15608,"l":1.1556,"c":1.15602},{"i":887,"o":1.15602,"h":1.1561,"l":1.1551,"c":1.15517},{"i":889,"o":1.15539,"h":1.15548,"l":1.15478,"c":1.15483},{"i":891,"o":1.15483,"h":1.1549,"l":1.15442,"c":1.15451},{"i":892,"o":1.15451,"h":1.1551,"l":1.15428,"c":1.15503},{"i":894,"o":1.15484,"h":1.15525,"l":1.1544,"c":1.15519},{"i":895,"o":1.15519,"h":1.1554,"l":1.15478,"c":1.15535},{"i":896,"o":1.15535,"h":1.1557,"l":1.1553,"c":1.15566},{"i":897,"o":1.15565,"h":1.1557,"l":1.15495,"c":1.15501},{"i":898,"o":1.15535,"h":1.1554,"l":1.15495,"c":1.15501},{"i":899,"o":1.15501,"h":1.15505,"l":1.154,"c":1.15407},{"i":900,"o":1.15407,"h":1.15466,"l":1.15352,"c":1.1546},{"i":901,"o":1.1546,"h":1.15516,"l":1.15455,"c":1.15511},{"i":902,"o":1.15511,"h":1.15525,"l":1.15495,"c":1.15501},{"i":903,"o":1.15501,"h":1.15582,"l":1.15495,"c":1.15527},{"i":904,"o":1.15527,"h":1.15532,"l":1.15472,"c":1.15479},{"i":905,"o":1.15479,"h":1.15528,"l":1.15472,"c":1.15524},{"i":906,"o":1.15524,"h":1.15545,"l":1.1552,"c":1.1554},{"i":907,"o":1.15575,"h":1.15578,"l":1.15534,"c":1.1554},{"i":908,"o":1.1554,"h":1.1558,"l":1.1553,"c":1.15575},{"i":909,"o":1.15575,"h":1.15625,"l":1.15538,"c":1.1562},{"i":910,"o":1.1562,"h":1.15672,"l":1.15615,"c":1.1565},{"i":911,"o":1.1565,"h":1.15675,"l":1.15612,"c":1.1562},{"i":912,"o":1.1562,"h":1.15638,"l":1.15602,"c":1.15632},{"i":913,"o":1.15632,"h":1.15636,"l":1.15536,"c":1.15543},{"i":914,"o":1.15543,"h":1.15547,"l":1.15478,"c":1.15485},{"i":915,"o":1.15485,"h":1.15488,"l":1.15428,"c":1.15478},{"i":916,"o":1.15478,"h":1.15592,"l":1.15472,"c":1.15586},{"i":917,"o":1.15586,"h":1.1559,"l":1.15505,"c":1.15511},{"i":918,"o":1.15511,"h":1.15515,"l":1.15495,"c":1.15503},{"i":919,"o":1.15503,"h":1.15508,"l":1.15398,"c":1.15404},{"i":921,"o":1.15404,"h":1.15468,"l":1.1537,"c":1.15377},{"i":922,"o":1.15377,"h":1.1538,"l":1.15272,"c":1.15279},{"i":923,"o":1.15279,"h":1.15283,"l":1.15188,"c":1.15194},{"i":924,"o":1.15194,"h":1.15198,"l":1.15143,"c":1.15172},{"i":925,"o":1.15172,"h":1.15242,"l":1.15122,"c":1.15126},{"i":926,"o":1.15126,"h":1.1518,"l":1.15085,"c":1.15175},{"i":927,"o":1.15175,"h":1.1523,"l":1.1516,"c":1.15221},{"i":929,"o":1.15221,"h":1.15284,"l":1.15205,"c":1.15261},{"i":931,"o":1.15263,"h":1.15284,"l":1.1525,"c":1.15258},{"i":932,"o":1.1526,"h":1.15265,"l":1.15205,"c":1.15219},{"i":933,"o":1.15247,"h":1.15255,"l":1.15151,"c":1.15167},{"i":935,"o":1.15167,"h":1.15208,"l":1.1516,"c":1.15202},{"i":936,"o":1.15202,"h":1.15206,"l":1.15165,"c":1.15188},{"i":937,"o":1.15188,"h":1.15192,"l":1.15155,"c":1.15167},{"i":938,"o":1.15167,"h":1.15238,"l":1.1516,"c":1.15234},{"i":940,"o":1.15249,"h":1.15266,"l":1.15228,"c":1.15234},{"i":941,"o":1.15234,"h":1.15248,"l":1.15215,"c":1.1522},{"i":942,"o":1.15228,"h":1.15232,"l":1.15188,"c":1.15193},{"i":943,"o":1.15193,"h":1.1522,"l":1.15188,"c":1.15214},{"i":944,"o":1.15214,"h":1.15246,"l":1.152,"c":1.15206},{"i":945,"o":1.15206,"h":1.15248,"l":1.152,"c":1.15245},{"i":946,"o":1.15245,"h":1.15357,"l":1.1524,"c":1.15353},{"i":947,"o":1.15353,"h":1.15417,"l":1.15352,"c":1.15378}],
"bands":[{"a":284,"b":989,"p":1.16015,"q":1.15995,"z":"a"},{"a":160.9,"b":214,"p":1.15995,"q":1.1593,"z":"a"},{"a":214,"b":989,"p":1.15995,"q":1.15968,"z":"b"},{"a":214,"b":989,"p":1.15968,"q":1.1593,"z":"c"},{"a":160.9,"b":989,"p":1.15683,"q":1.15638,"z":"a"},{"a":160.9,"b":989,"p":1.15331,"q":1.1528,"z":"a"},{"a":160.9,"b":989,"p":1.15111,"q":1.15085,"z":"a"},{"a":160.9,"b":989,"p":1.15085,"q":1.15006,"z":"d"}],
"levels":[{"a":284,"p":1.16015,"t":"(1.16015)"},{"a":160.9,"p":1.15995,"t":"(1.15995)"},{"a":214,"p":1.1593,"t":"(1.15930)"},{"a":160.9,"p":1.15683,"t":"(1.15683)"},{"a":160.9,"p":1.15638,"t":"(1.15638)"},{"a":160.9,"p":1.15331,"t":"(1.15331)"},{"a":160.9,"p":1.1528,"t":"(1.15280)"},{"a":160.9,"p":1.15111,"t":"(1.15111)"},{"a":160.9,"p":1.15085,"t":"(1.15085)"}],
"fib":[{"t":"0","p":1.16433},{"t":"0.618","p":1.16242},{"t":"1","p":1.16123},{"t":"1.618","p":1.1593},{"t":"2.618","p":1.15619},{"t":"3.618","p":1.15307},{"t":"4.236","p":1.15115}],
"head":[{"t":"euromotives","i":160.6,"p":1.16572,"k":"link"},{"t":"published on TradingView.com, June 21, 2018 06:58 EDT","i":197.3,"p":1.16572,"k":"dark"},{"t":"1.15377","i":201,"p":1.16543,"k":"dark"},{"t":"−0.00323 (−0.28%)","i":230.8,"p":1.16543,"k":"dark"},{"t":"1.15353","i":289,"p":1.16543,"k":"down"},{"t":"1.15417","i":319,"p":1.16543,"k":"down"},{"t":"1.15352","i":347.7,"p":1.16543,"k":"down"},{"t":"1.15378","i":377.2,"p":1.16543,"k":"down"},{"t":"Created with","i":160.6,"p":1.14944,"k":"dark"},{"t":"TradingView","i":213.2,"p":1.14944,"k":"link"}],
"headb":[{"t":"FX:EURUSD, 5","i":160.6,"p":1.16543,"k":"dark"},{"t":"O:","i":282.4,"p":1.16543,"k":"dark"},{"t":"H:","i":312.9,"p":1.16543,"k":"dark"},{"t":"L:","i":342.6,"p":1.16543,"k":"dark"},{"t":"C:","i":371.7,"p":1.16543,"k":"dark"},{"t":"Euro Fx/U.S. Dollar, 5, FXCM","i":164.8,"p":1.16495,"k":"grey"}]
},
"layer":[
{"data":{"name":"bands"},"mark":{"type":"rect"},"encoding":{"x":{"field":"a","type":"quantitative","scale":{"domain":[160.58,1014.6],"nice":false,"zero":false},"axis":{"orient":"bottom","offset":-19,"zindex":1,"labelOverlap":false,"values":[180,216,252,288,324,360,396,432,468,504,540,576,612,648,684,720,756,792,828,864,900,936,972],"labelExpr":"datum.value%288==0?''+(18+datum.value/288):format((datum.value%288)/12,'02d')+':00'","title":null,"grid":false,"domain":false,"tickSize":4,"tickColor":"#555555","labelFont":"Liberation Sans","labelFontSize":11,"labelColor":"#555555","labelPadding":2,"labelFontWeight":{"condition":{"test":"datum.value%288==0","value":"bold"},"value":"normal"}}},"x2":{"field":"b"},"y":{"field":"p","type":"quantitative","scale":{"domain":[1.149752,1.16522],"nice":false,"zero":false},"axis":{"orient":"right","offset":-52,"zindex":1,"labelOverlap":false,"labelBound":false,"labelFlush":false,"tickCount":30,"values":[1.1505,1.151,1.1515,1.152,1.1525,1.153,1.1535,1.154,1.1545,1.155,1.1555,1.156,1.1565,1.157,1.1575,1.158,1.1585,1.159,1.1595,1.16,1.1605,1.161,1.1615,1.162,1.1625,1.163,1.1635,1.164,1.1645,1.165],"labelExpr":"format(datum.value,'.5f')","title":null,"grid":false,"domain":false,"tickSize":4,"tickColor":"#555555","labelFont":"Liberation Sans","labelFontSize":11,"labelColor":"#555555","labelPadding":3}},"y2":{"field":"q"},"color":{"field":"z","type":"nominal","legend":null,"scale":{"domain":["a","b","c","d"],"range":["#fcfcfc","#f9f9fa","#f6f7f9","#f8f8f8"]}}}},
{"data":{"name":"levels"},"mark":{"type":"rule","color":"#c8c8c8","strokeWidth":1},"encoding":{"x":{"field":"a","type":"quantitative"},"x2":{"datum":989},"y":{"field":"p","type":"quantitative"}}},
{"data":{"values":[{"p":1.15968}]},"mark":{"type":"rule","color":"#e3eef8","strokeWidth":1,"strokeDash":[3,3]},"encoding":{"x":{"datum":214,"type":"quantitative"},"x2":{"datum":989},"y":{"field":"p","type":"quantitative"}}},
{"data":{"name":"c"},"mark":{"type":"rule","color":"#737375","strokeWidth":1},"encoding":{"x":{"field":"i","type":"quantitative"},"y":{"field":"l","type":"quantitative"},"y2":{"field":"h"}}},
{"data":{"name":"c"},"mark":{"type":"rule","strokeWidth":3.8},"encoding":{"x":{"field":"i","type":"quantitative"},"y":{"field":"o","type":"quantitative"},"y2":{"field":"c"},"color":{"condition":[{"test":"abs(datum.c-datum.o)<0.000025","value":"#3a1a14"},{"test":"datum.c>datum.o","value":"#6ba583"}],"value":"#d75442"}}},
{"data":{"values":[{"i":276.7,"p":1.16433},{"i":329.8,"p":1.16123}]},"mark":{"type":"line","color":"#cc0000","strokeWidth":1,"strokeDash":[4,5]},"encoding":{"x":{"field":"i","type":"quantitative"},"y":{"field":"p","type":"quantitative"}}},
{"data":{"name":"fib"},"mark":{"type":"rule","color":"#cc0000","strokeWidth":1.2},"encoding":{"x":{"datum":276.7,"type":"quantitative"},"x2":{"datum":989},"y":{"field":"p","type":"quantitative"}}},
{"data":{"name":"fib"},"mark":{"type":"text","align":"right","baseline":"middle","dy":-6.5,"font":"Open Sans","fontSize":13,"color":"#dd2222"},"encoding":{"x":{"datum":275,"type":"quantitative"},"y":{"field":"p","type":"quantitative"},"text":{"field":"t"}}},
{"data":{"values":[{"t":"4.618","p":1.14997}]},"mark":{"type":"text","align":"right","baseline":"middle","dy":-6.5,"font":"Open Sans","fontSize":13,"color":"#dd2222"},"encoding":{"x":{"datum":275,"type":"quantitative"},"y":{"field":"p","type":"quantitative"},"text":{"field":"t"}}},
{"data":{"name":"levels"},"mark":{"type":"text","align":"right","baseline":"middle","dy":-6,"font":"Liberation Sans","fontWeight":"bold","fontSize":14,"color":"#d2d2d2"},"encoding":{"x":{"datum":986.4,"type":"quantitative"},"y":{"field":"p","type":"quantitative"},"text":{"field":"t"}}},
{"data":{"values":[{"t":"(1.15000)","p":1.15}]},"mark":{"type":"text","align":"right","baseline":"middle","dy":-6,"font":"Liberation Sans","fontWeight":"bold","fontSize":14,"color":"#d2d2d2"},"encoding":{"x":{"datum":986.4,"type":"quantitative"},"y":{"field":"p","type":"quantitative"},"text":{"field":"t"}}},
{"data":{"values":[{"a":160.9,"b":1014.3,"p":1.15006,"q":1.14977}]},"mark":{"type":"rect","color":"#ffffff"},"encoding":{"x":{"field":"a","type":"quantitative"},"x2":{"field":"b"},"y":{"field":"p","type":"quantitative"},"y2":{"field":"q"}}},
{"data":{"values":[{"p":1.16522,"q":1.15006}]},"mark":{"type":"rule","color":"#4f4f4f","strokeWidth":1},"encoding":{"x":{"datum":990.1,"type":"quantitative"},"y":{"field":"p","type":"quantitative"},"y2":{"field":"q"}}},
{"data":{"values":[{"p":1.15006}]},"mark":{"type":"rule","color":"#4f4f4f","strokeWidth":1},"encoding":{"x":{"datum":160.58,"type":"quantitative"},"x2":{"datum":990.1},"y":{"field":"p","type":"quantitative"}}},
{"data":{"values":[{"a":990.1,"b":1014.3,"p":1.15391,"q":1.15365}]},"mark":{"type":"rect","color":"#6ba583"},"encoding":{"x":{"field":"a","type":"quantitative"},"x2":{"field":"b"},"y":{"field":"p","type":"quantitative"},"y2":{"field":"q"}}},
{"data":{"values":[{"t":"1.15378","p":1.15375}]},"mark":{"type":"text","align":"left","baseline":"middle","dx":4,"font":"Liberation Sans","fontWeight":"bold","fontSize":11,"color":"#ffffff"},"encoding":{"x":{"datum":992,"type":"quantitative"},"y":{"field":"p","type":"quantitative"},"text":{"field":"t"}}},
{"data":{"name":"head"},"mark":{"type":"text","align":"left","baseline":"middle","font":"Open Sans","fontSize":12.3},"encoding":{"x":{"field":"i","type":"quantitative"},"y":{"field":"p","type":"quantitative"},"text":{"field":"t"},"color":{"field":"k","type":"nominal","legend":null,"scale":{"domain":["link","dark","down"],"range":["#45b2e8","#222222","#b22222"]}}}},
{"data":{"name":"headb"},"mark":{"type":"text","align":"left","baseline":"middle","font":"Open Sans","fontSize":12,"fontWeight":"bold"},"encoding":{"x":{"field":"i","type":"quantitative"},"y":{"field":"p","type":"quantitative"},"text":{"field":"t"},"color":{"field":"k","type":"nominal","legend":null,"scale":{"domain":["dark","grey"],"range":["#222222","#666666"]}}}},
{"data":{"values":[{"i":226.2,"p":1.16543}]},"mark":{"type":"point","filled":true,"opacity":1,"color":"#8b0000","size":60,"shape":"triangle-down"},"encoding":{"x":{"field":"i","type":"quantitative"},"y":{"field":"p","type":"quantitative"}}},
{"data":{"values":[{"i":204.8,"p":1.14947}]},"mark":{"type":"point","filled":true,"opacity":1,"color":"#5bbde8","size":576,"shape":"M-1,0.4 C-1,0 -0.6,-0.1 -0.4,-0.1 C-0.3,-0.6 0.3,-0.6 0.4,-0.2 C0.7,-0.2 1,0.1 1,0.4 L0.6,0.6 L0.25,0.15 L-0.05,0.55 L-0.35,0.1 L-0.75,0.6 Z"},"encoding":{"x":{"field":"i","type":"quantitative"},"y":{"field":"p","type":"quantitative"}}}
]}
